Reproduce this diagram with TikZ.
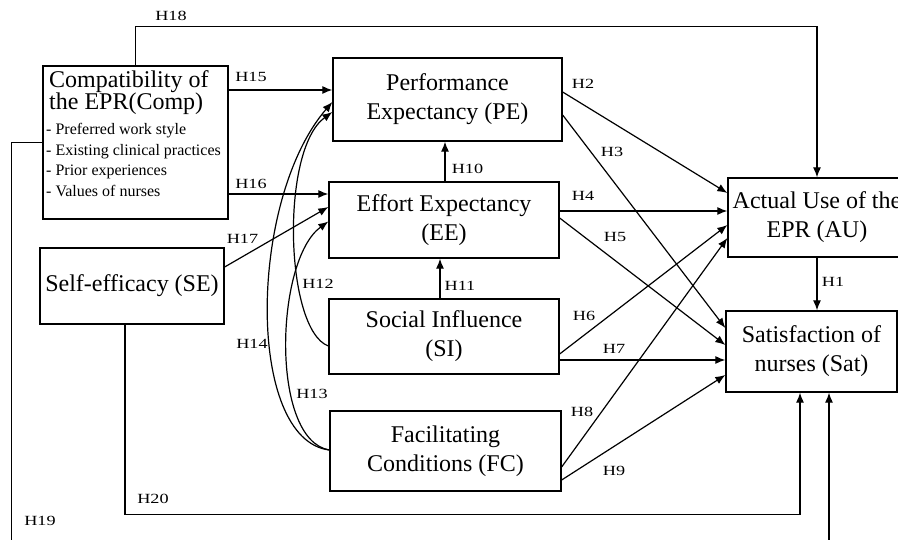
\documentclass[tikz,border=0pt]{standalone}
\usepackage{fontspec}
\setmainfont{Liberation Serif}
\newfontfamily\hfont[FakeStretch=1.3]{Liberation Serif}
\usetikzlibrary{arrows.meta,calc}
\tikzset{
boxnodev1/.style={rectangle, draw=black!100, fill=none, line width=1.3pt, inner sep=0pt, align=center, font=\fontsize{24}{29}\selectfont},
hlabel/.style={inner sep=0pt, font=\hfont\fontsize{14}{16}\selectfont},
arrowv1/.style={line width=1.2pt, black, -{Latex[length=10pt,width=8pt]}},
plainv1/.style={line width=1.2pt, black},
}

\begin{document}
\begin{tikzpicture}[x=1pt,y=-1pt]
        \useasboundingbox (0,0) rectangle (898,540);
        \clip (0,0) rectangle (898,540);

        % boxes
        \node[boxnodev1, minimum width=185pt, minimum height=153pt] at (135.5,142.5) (comp) {};
        \node[anchor=base west, inner sep=0pt, align=left, font=\fontsize{24}{21}\selectfont] at (49,110) (comptitle)
          {Compatibility of\\ the EPR(Comp)};
        \node[anchor=north west, inner sep=0pt, align=left, font=\fontsize{16}{20.7}\selectfont] at (46,123) (complist)
          {- Preferred work style\\ - Existing clinical practices\\ - Prior experiences\\ - Values of nurses};
        \node[boxnodev1, minimum width=229pt, minimum height=83pt] at (447.5,99.5) (pe) {Performance\\Expectancy (PE)};
        \node[boxnodev1, minimum width=230pt, minimum height=76pt] at (444,220) (ee) {Effort Expectancy\\(EE)};
        \node[boxnodev1, minimum width=230pt, minimum height=75pt] at (444,336.5) (si) {Social Influence\\(SI)};
        \node[boxnodev1, minimum width=231pt, minimum height=80pt] at (445.5,451) (fc) {Facilitating\\Conditions (FC)};
        \node[boxnodev1, minimum width=184pt, minimum height=76pt] at (132,286) (se) {Self-efficacy (SE)};
        \node[boxnodev1, minimum width=178pt, minimum height=79pt] at (817,217.5) (au) {Actual Use of the\\EPR (AU)};
        \node[boxnodev1, minimum width=171pt, minimum height=81pt] at (811.5,351.5) (sat) {Satisfaction of\\nurses (Sat)};

        % straight paths
        \draw[arrowv1] ($(comp.east)+(0,-52.5)$) -- ($(pe.west)+(0,-9.5)$);
        \draw[arrowv1] ($(comp.east)+(0,51.5)$) -- ($(ee.west)+(0,-26)$);
        \draw[arrowv1] ($(se.east)+(0,-19)$) -- ($(ee.west)+(0,-13)$);
        \draw[arrowv1] ($(ee.north)+(1,0)$) -- ($(pe.south)+(-2.5,0)$);
        \draw[arrowv1] ($(si.north)+(-4,0)$) -- ($(ee.south)+(-4,0)$);
        \draw[arrowv1] (au.south) -- ($(sat.north)+(5.5,0)$);
        \draw[arrowv1] ($(pe.east)+(0,-7.5)$) -- ($(au.west)+(0,-24.5)$);
        \draw[arrowv1] ($(pe.east)+(0,15.5)$) -- ($(sat.west)+(0,-23.5)$);
        \draw[arrowv1] ($(ee.east)+(0,-9)$) -- ($(au.west)+(0,-6.5)$);
        \draw[arrowv1] ($(ee.east)+(0,-2)$) -- ($(sat.west)+(0,-6.5)$);
        \draw[arrowv1] ($(si.east)+(0,17.5)$) -- ($(au.west)+(0,7.5)$);
        \draw[arrowv1] ($(si.east)+(0,23.5)$) -- ($(sat.west)+(0,8.5)$);
        \draw[arrowv1] ($(fc.east)+(0,16)$) -- ($(au.west)+(0,20.5)$);
        \draw[arrowv1] ($(fc.east)+(0,29)$) -- ($(sat.west)+(0,23.5)$);

        % curved paths
        \draw[arrowv1] ($(si.west)+(0,9.5)$) .. controls (285,330) and (280,150) .. ($(pe.west)+(0,12.5)$);
        \draw[arrowv1] ($(fc.west)+(0,-1)$) .. controls (270,440) and (275,260) .. ($(ee.west)+(0,1.5)$);
        \draw[arrowv1] ($(fc.west)+(0,-1)$) .. controls (246,440) and (248,200) .. ($(pe.west)+(0,2.5)$);

        % long paths
        \draw[arrowv1] (comp.north) -- ++(0,-39) -| (au.north);
        \draw[arrowv1] (comp.west) -- ++(-31,0) -- ++(0,418) -| ($(sat.south)+(17.5,0)$);
        \draw[arrowv1] ($(se.south)+(-7,0)$) -- ++(0,190) -| ($(sat.south)+(-11.5,0)$);

        % labels
        \node[hlabel] at (583,84) (h2) {H2};
        \node[hlabel] at (612,152) (h3) {H3};
        \node[hlabel] at (583,196) (h4) {H4};
        \node[hlabel] at (615,237) (h5) {H5};
        \node[hlabel] at (584,316) (h6) {H6};
        \node[hlabel] at (614,349) (h7) {H7};
        \node[hlabel] at (582,412) (h8) {H8};
        \node[hlabel] at (614,471) (h9) {H9};
        \node[hlabel] at (833,282) (h1) {H1};
        \node[hlabel] at (467.5,169) (h10) {H10};
        \node[hlabel] at (460,286) (h11) {H11};
        \node[hlabel] at (318,284) (h12) {H12};
        \node[hlabel] at (312,394) (h13) {H13};
        \node[hlabel] at (252,344) (h14) {H14};
        \node[hlabel] at (251,77) (h15) {H15};
        \node[hlabel] at (251,184) (h16) {H16};
        \node[hlabel] at (242.5,239) (h17) {H17};
        \node[hlabel] at (171,16) (h18) {H18};
        \node[hlabel] at (40,521) (h19) {H19};
        \node[hlabel] at (153,499) (h20) {H20};
    \end{tikzpicture}
\end{document}
